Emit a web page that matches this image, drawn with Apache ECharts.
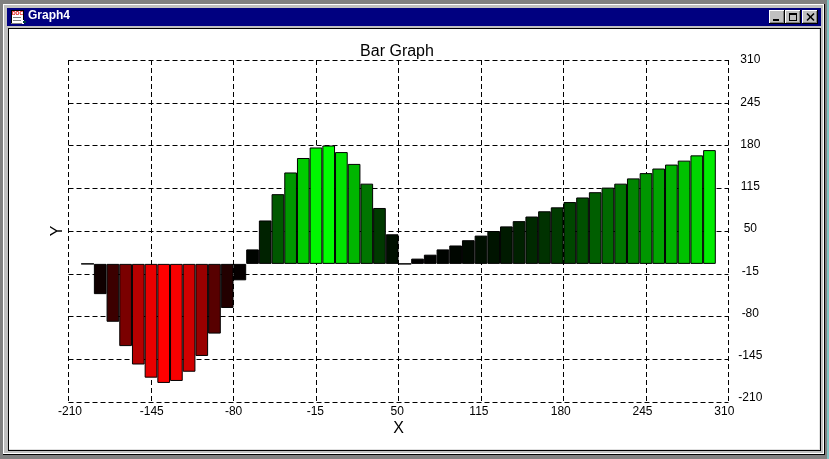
<!DOCTYPE html>
<html><head><meta charset="utf-8">
<style>html,body{margin:0;padding:0;background:#fff}#c{width:829px;height:459px}</style>
<script src="https://cdn.jsdelivr.net/npm/echarts@6/dist/echarts.min.js"></script>
</head><body><div id="c"></div>
<script>
const xPositions = [-195,-185,-175,-165,-155,-145,-135,-125,-115,-105,-95,-85,-75,-65,-55,-45,-35,-25,-15,-5,5,15,25,35,45,55,65,75,85,95,105,115,125,135,145,155,165,175,185,195,205,215,225,235,245,255,265,275,285,295];
const yValues = [0,-46,-88,-125,-153,-173,-181,-178,-164,-140,-106,-67,-25,22,66,106,139,161,177,180,170,152,122,85,45,0,8,14,22,28,36,43,50,57,65,72,80,86,94,101,109,116,122,130,138,145,151,157,165,173];
const xTicks = [-210,-145,-80,-15,50,115,180,245,310];
const yTicks = [-210,-145,-80,-15,50,115,180,245,310];
const chartTitle = 'Bar Graph', windowTitle = 'Graph4', xName = 'X', yName = 'Y';

const font = 'Liberation Sans';
function barColor(v){
  const m = Math.abs(v)/ (v<0?181:180);
  const c = Math.round(255*m*m);
  return v<0 ? `rgb(${c},0,0)` : `rgb(0,${c},0)`;
}
const r=(x,y,w,h,fill)=>({type:'rect',silent:true,z:0,shape:{x,y,width:w,height:h},style:{fill}});
const l=(x1,y1,x2,y2,stroke,w)=>({type:'line',silent:true,z:1,shape:{x1,y1,x2,y2},style:{stroke,lineWidth:w||1}});
function btn(x){return [r(x,10,16,14,'#000'),r(x,10,15,13,'#fff'),r(x+1,11,14,12,'#808080'),r(x+1,11,13,11,'#c0c0c0')];}
const chrome = [
  r(0,0,829,459,'#808080'), r(827,0,2,459,'#7fc4c4'),
  r(3,4,822,451,'#000'), r(3,4,821,450,'#fff'), r(4,5,819,448,'#c0c0c0'),
  r(7,8,814,18,'#000080'),
  r(8,28,813,423,'#000'), r(9,29,811,421,'#fff'), r(819,29,1,421,'#e0e0e0'), r(9,449,811,1,'#e0e0e0'),
  r(11,10,13,14,'#fff'), r(11,23,11,1,'#808080'), r(23,21,3,2,'#004040'),
  r(11,10,13,1,'#000'), r(11,10,1,13,'#000'), r(23,10,1,10,'#000'),r(13,17,8,1,'#808080'),r(13,20,8,1,'#808080'),
  {type:'text',silent:true,z:2,style:{x:12,y:11,text:'DOC',fill:'#e00000',font:'bold 5px "Liberation Sans"'}},
  {type:'text',silent:true,z:2,style:{x:28,y:10,text:windowTitle,fill:'#fff',font:'bold 12px "Liberation Sans"'}},
  ...btn(769),...btn(785),...btn(802),
  r(773,19,6,2,'#000'),
  r(789,13,8,8,'#000'), r(790,15,6,5,'#c0c0c0'),
  l(807,13.5,814,20.5,'#000',1.6), l(814,13.5,807,20.5,'#000',1.6)
];
const blank = {show:false};
const chart = echarts.init(document.getElementById('c'),null,{renderer:'canvas'});
chart.setOption({
  animation:false, backgroundColor:'#fff',
  title:{text:chartTitle,left:392,top:39,textAlign:'center',textStyle:{fontFamily:font,fontWeight:'normal',fontSize:16,color:'#000'}},
  graphic:chrome,
  grid:[
    {left:68.5,top:60,width:660,height:342,show:true,borderColor:'#000',borderWidth:1,backgroundColor:'transparent',containLabel:false},
    {left:70,top:60,width:654.3,height:338,show:false}
  ],
  xAxis:[
    {type:'value',gridIndex:0,min:-210,max:310,name:xName,nameLocation:'middle',nameGap:19,nameTextStyle:{fontFamily:font,fontSize:16,color:'#000'},
     axisLine:blank,axisTick:{show:false,customValues:xTicks},axisLabel:{show:false,customValues:xTicks},
     splitLine:{show:true,lineStyle:{color:'#000',type:[5,3],width:1}}},
    {type:'value',gridIndex:1,min:-210,max:310,position:'bottom',
     axisLine:blank,axisTick:{show:false,customValues:xTicks},splitLine:blank,
     axisLabel:{show:true,customValues:xTicks,margin:8,color:'#000',fontFamily:font,fontSize:12,showMinLabel:true,showMaxLabel:true,hideOverlap:false}}
  ],
  yAxis:[
    {type:'value',gridIndex:0,min:-210,max:310,name:yName,nameLocation:'middle',nameGap:3,nameRotate:90,nameTextStyle:{fontFamily:font,fontSize:16,color:'#000'},
     axisLine:blank,axisTick:{show:false,customValues:yTicks},axisLabel:{show:false,customValues:yTicks},
     splitLine:{show:true,lineStyle:{color:'#000',type:[5,3],width:1}}},
    {type:'value',gridIndex:1,min:-210,max:310,position:'right',
     axisLine:blank,axisTick:{show:false,customValues:yTicks},splitLine:blank,
     axisLabel:{show:true,customValues:yTicks,margin:26,align:'center',color:'#000',fontFamily:font,fontSize:12,showMinLabel:true,showMaxLabel:true,hideOverlap:false}}
  ],
  series:[{
    type:'bar',xAxisIndex:0,yAxisIndex:0,barWidth:12.69,z:3,
    data:xPositions.map((x,i)=>[x,yValues[i]]),
    itemStyle:{borderColor:'#000',borderWidth:1,color:p=>barColor(p.value[1])},
    emphasis:{disabled:true},silent:true
  }]
});
</script></body></html>
